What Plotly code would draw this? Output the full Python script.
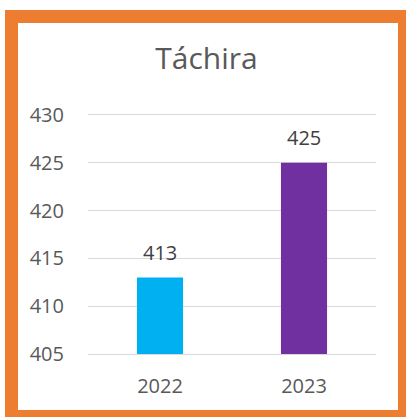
import plotly.graph_objects as go

years = ["2022", "2023"]
values = [413, 425]
bar_colors = ["#00B0F0", "#7030A0"]
y_ticks = [405, 410, 415, 420, 425, 430]

W, H = 406, 417
L, R, T, B = 88, 30, 113, 63
pw, ph = W - L - R, H - T - B


def px_x(p):
    return (p - L) / pw


def px_y(p):
    return (H - B - p) / ph


FONT = "Open Sans, Lato, Arial, sans-serif"

fig = go.Figure(
    go.Bar(
        x=years,
        y=values,
        marker=dict(color=bar_colors, line=dict(width=0)),
        width=0.32,
        hoverinfo="x+y",
    )
)

# value labels above bars (category index as x)
for i, v in enumerate(values):
    fig.add_annotation(
        x=i, y=v, text=str(v), showarrow=False,
        yanchor="middle", yshift=25,
        font=dict(family=FONT, size=20, color="#404040"),
    )

fig.update_layout(
    width=W,
    height=H,
    autosize=False,
    margin=dict(l=L, r=R, t=T, b=B),
    paper_bgcolor="white",
    plot_bgcolor="white",
    showlegend=False,
    font=dict(family=FONT, color="#595959"),
    title=dict(
        text="Táchira",
        font=dict(family=FONT, size=30, color="#595959"),
        xref="paper",
        x=px_x(206.5),
        xanchor="center",
        yref="container",
        y=1 - 58 / H,
        yanchor="middle",
    ),
    xaxis=dict(
        type="category",
        range=[-0.5, 1.5],
        showgrid=False,
        zeroline=False,
        showline=True,
        linecolor="#d9d9d9",
        linewidth=1,
        ticks="",
        tickfont=dict(family=FONT, size=20, color="#595959"),
        ticklabelstandoff=14,
    ),
    yaxis=dict(
        range=[405, 430.2],
        tickvals=y_ticks,
        showgrid=True,
        gridcolor="#d9d9d9",
        gridwidth=1,
        zeroline=False,
        showline=False,
        ticks="",
        tickfont=dict(family=FONT, size=20, color="#595959"),
        ticklabelstandoff=23,
    ),
    shapes=[
        dict(
            type="rect",
            xref="paper",
            yref="paper",
            x0=px_x(11.5),
            x1=px_x(404.5),
            y0=px_y(416.5),
            y1=px_y(16.5),
            line=dict(color="#ED7D31", width=13),
            fillcolor="rgba(0,0,0,0)",
            layer="above",
        )
    ],
)

fig.write_html(
    "out.html",
    config={"displayModeBar": False},
    post_script="document.body.style.margin='0';",
)
